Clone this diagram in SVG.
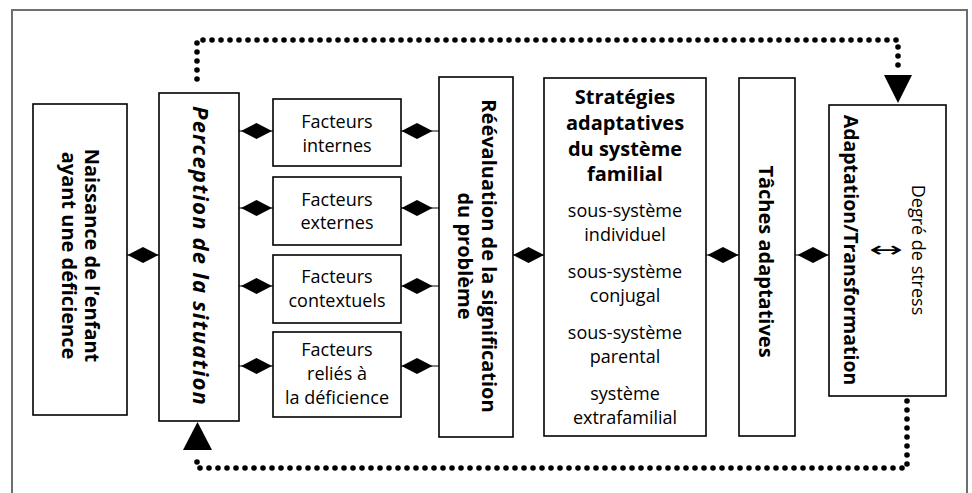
<svg xmlns="http://www.w3.org/2000/svg" xmlns:xlink="http://www.w3.org/1999/xlink" width="972" height="493" viewBox="0 0 972 493">
  <style>
    .box { fill: #fff; stroke: #000; stroke-width: 1.6; }
    .t { font-family: "Open Sans", "Noto Sans", sans-serif; fill: #000; text-anchor: middle; }
    .b { font-weight: bold; font-size: 20px; }
    .n { font-weight: normal; font-size: 18px; }
    .bi { font-weight: bold; font-style: italic; font-size: 22px; letter-spacing: 1.2px; }
    .dot { fill: none; stroke: #000; stroke-width: 5.6; stroke-linecap: round; stroke-dasharray: 0 9; }
    .link { stroke: #000; stroke-width: 1; }
  </style>
  <defs>
    <path id="dia" d="M-15.5,0 L0,-8 L15.5,0 L0,8 Z" fill="#000"/>
  </defs>
  <rect width="972" height="493" fill="#fff"/>
  <rect x="12" y="10" width="955" height="510" fill="none" stroke="#6e6e6e" stroke-width="2"/>

  <g id="connectors">
    <path class="dot" d="M197,79 V40 H898 V68"/>
    <polygon points="884,75 912,75 898,103" fill="#000"/>
    <path class="dot" d="M907,401 V468 H197 V455"/>
    <polygon points="183,450 212,450 197.5,422" fill="#000"/>

    <line class="link" x1="127" y1="255" x2="159" y2="255"/>
    <use xlink:href="#dia" x="143" y="255"/>

    <line class="link" x1="239" y1="131" x2="273" y2="131"/>
    <use xlink:href="#dia" x="256.5" y="131"/>
    <line class="link" x1="239" y1="208" x2="273" y2="208"/>
    <use xlink:href="#dia" x="256.5" y="208"/>
    <line class="link" x1="239" y1="286" x2="273" y2="286"/>
    <use xlink:href="#dia" x="256.5" y="286"/>
    <line class="link" x1="239" y1="366" x2="273" y2="366"/>
    <use xlink:href="#dia" x="256.5" y="366"/>

    <line class="link" x1="401" y1="131" x2="439" y2="131"/>
    <use xlink:href="#dia" x="417" y="131"/>
    <line class="link" x1="401" y1="208" x2="439" y2="208"/>
    <use xlink:href="#dia" x="417" y="208"/>
    <line class="link" x1="401" y1="286" x2="439" y2="286"/>
    <use xlink:href="#dia" x="417" y="286"/>
    <line class="link" x1="401" y1="366" x2="439" y2="366"/>
    <use xlink:href="#dia" x="417" y="366"/>

    <line class="link" x1="513" y1="255" x2="544" y2="255"/>
    <use xlink:href="#dia" x="528.5" y="255"/>
    <line class="link" x1="706" y1="255" x2="739" y2="255"/>
    <use xlink:href="#dia" x="723" y="255"/>
    <line class="link" x1="795" y1="255" x2="829" y2="255"/>
    <use xlink:href="#dia" x="813" y="255"/>
  </g>

  <g id="naissance">
    <rect class="box" x="33" y="104" width="94" height="311"/>
    <text class="t b" transform="translate(85,255.5) rotate(90)">Naissance de l’enfant</text>
    <text class="t b" transform="translate(61.5,255.5) rotate(90)">ayant une déficience</text>
  </g>

  <g id="perception">
    <rect class="box" x="159" y="93" width="80" height="328"/>
    <text class="t bi" transform="translate(193,256) rotate(90)">Perception de la situation</text>
  </g>

  <g id="facteurs-internes">
    <rect class="box" x="273" y="99" width="128" height="67"/>
    <text class="t n" x="337" y="128">Facteurs</text>
    <text class="t n" x="337" y="151.5">internes</text>
  </g>
  <g id="facteurs-externes">
    <rect class="box" x="273" y="177" width="128" height="68"/>
    <text class="t n" x="337" y="205.5">Facteurs</text>
    <text class="t n" x="337" y="229">externes</text>
  </g>
  <g id="facteurs-contextuels">
    <rect class="box" x="273" y="255" width="128" height="68"/>
    <text class="t n" x="337" y="283">Facteurs</text>
    <text class="t n" x="337" y="306.5">contextuels</text>
  </g>
  <g id="facteurs-deficience">
    <rect class="box" x="273" y="332" width="128" height="85"/>
    <text class="t n" x="337" y="356">Facteurs</text>
    <text class="t n" x="337" y="380">reliés à</text>
    <text class="t n" x="337" y="404">la déficience</text>
  </g>

  <g id="reevaluation">
    <rect class="box" x="439" y="77" width="74" height="360"/>
    <text class="t b" transform="translate(482,256) rotate(90)">Réévaluation de la signification</text>
    <text class="t b" transform="translate(457.5,256) rotate(90)">du problème</text>
  </g>

  <g id="strategies">
    <rect class="box" x="544" y="78" width="162" height="358"/>
    <text class="t b" x="625" y="104">Stratégies</text>
    <text class="t b" x="625" y="130">adaptatives</text>
    <text class="t b" x="625" y="156">du système</text>
    <text class="t b" x="625" y="181">familial</text>
    <text class="t n" x="625" y="217">sous-système</text>
    <text class="t n" x="625" y="240.5">individuel</text>
    <text class="t n" x="625" y="278">sous-système</text>
    <text class="t n" x="625" y="301.5">conjugal</text>
    <text class="t n" x="625" y="339">sous-système</text>
    <text class="t n" x="625" y="362.5">parental</text>
    <text class="t n" x="625" y="400">système</text>
    <text class="t n" x="625" y="423.5">extrafamilial</text>
  </g>

  <g id="taches">
    <rect class="box" x="739" y="78" width="56" height="358"/>
    <text class="t b" transform="translate(759,261.5) rotate(90)">Tâches adaptatives</text>
  </g>

  <g id="adaptation">
    <rect class="box" x="829" y="105" width="117" height="291"/>
    <text class="t b" style="font-size:19.5px" transform="translate(844,250) rotate(90)">Adaptation/Transformation</text>
    <text class="t n" transform="translate(911.5,250) rotate(90)">Degré de stress</text>
    <text x="869" y="257" font-family="'DejaVu Sans', sans-serif" font-size="22" textLength="34" lengthAdjust="spacingAndGlyphs">↔</text>
  </g>
</svg>
